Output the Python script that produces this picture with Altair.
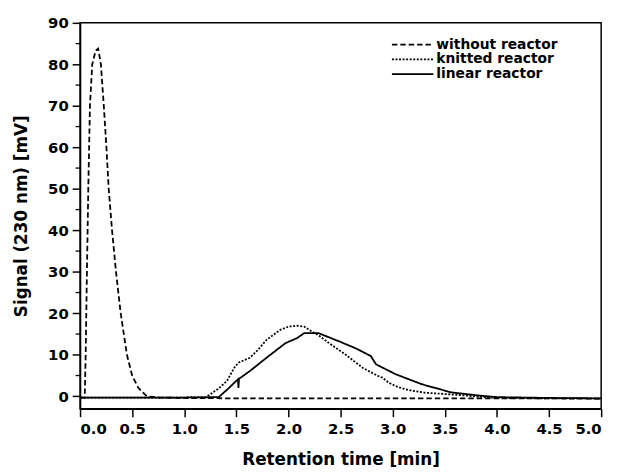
import altair as alt
import pandas as pd

series_names = ["without reactor", "knitted reactor", "linear reactor"]

t_without = [0.0, 0.045, 0.054, 0.066, 0.079, 0.095, 0.117, 0.15, 0.174, 0.20, 0.228,
             0.253, 0.275, 0.307, 0.345, 0.39, 0.45, 0.50, 0.56, 0.64, 0.75, 1.0, 1.5,
             2.0, 2.5, 3.0, 3.5, 4.0, 4.5, 5.0]
v_without = [-0.3, -0.3, 10, 30, 50, 70, 80, 83.3, 83.8, 80, 70,
             60, 50, 40, 30, 20, 10, 5, 2, 0, -0.3, -0.4, -0.5,
             -0.5, -0.5, -0.5, -0.5, -0.5, -0.5, -0.6]

t_knitted = [0.0, 0.5, 1.0, 1.21, 1.32, 1.41, 1.48, 1.52, 1.63, 1.70, 1.79, 1.92, 2.0,
             2.08, 2.15, 2.20, 2.30, 2.39, 2.55, 2.71, 2.85, 2.90, 2.96, 3.05, 3.18,
             3.3, 3.5, 3.7, 3.82, 4.0, 4.5, 5.0]
v_knitted = [-0.3, -0.3, -0.3, -0.2, 1.7, 3.7, 6.9, 8.1, 9.3, 11.0, 13.6, 16.0, 16.8,
             17.0, 16.8, 16.0, 14.5, 12.8, 10.0, 6.9, 5.0, 4.5, 3.3, 2.2, 1.35,
             0.9, 0.55, 0.2, -0.1, -0.4, -0.5, -0.5]

t_linear = [0.0, 0.5, 1.0, 1.33, 1.42, 1.515, 1.52, 1.525, 1.63, 1.79, 1.97, 2.08,
            2.15, 2.29, 2.49, 2.65, 2.79, 2.84, 3.03, 3.28, 3.56, 3.82, 4.0, 4.5, 5.0]
v_linear = [-0.3, -0.3, -0.3, -0.2, 1.8, 4.1, 2.0, 4.2, 6.1, 9.3, 12.8, 14.0,
            15.2, 15.2, 13.2, 11.5, 9.7, 7.7, 5.3, 2.9, 0.95, 0.2, -0.2, -0.4, -0.5]

x_ticks = [0.0, 0.5, 1.0, 1.5, 2.0, 2.5, 3.0, 3.5, 4.0, 4.5, 5.0]
y_ticks = [0, 10, 20, 30, 40, 50, 60, 70, 80, 90]
y_minor = [5, 15, 25, 35, 45, 55, 65, 75, 85]

rows = []
for name, ts, vs in zip(series_names, [t_without, t_knitted, t_linear],
                        [v_without, v_knitted, v_linear]):
    for i, (t, v) in enumerate(zip(ts, vs)):
        rows.append({"series": name, "t": t, "v": v, "i": i})
df = pd.DataFrame(rows)
minor_df = pd.DataFrame({"v": y_minor})

FONT = "DejaVu Sans"

x_scale = alt.Scale(domain=[0, 5], nice=False, zero=False)
y_scale = alt.Scale(domain=[-3, 90], nice=False, zero=False)

lines = alt.Chart(df).mark_line(color="black", strokeWidth=1.8).encode(
    x=alt.X("t:Q", scale=x_scale,
            axis=alt.Axis(values=x_ticks, format=".1f", title="Retention time [min]",
                          tickSize=8, labelPadding=5, titlePadding=16)),
    y=alt.Y("v:Q", scale=y_scale,
            axis=alt.Axis(values=y_ticks, format="d", title="Signal (230 nm) [mV]",
                          tickSize=8, labelPadding=4, titlePadding=17)),
    strokeDash=alt.StrokeDash(
        "series:N",
        scale=alt.Scale(domain=series_names, range=[[5.5, 3], [2, 1.6], [1, 0]]),
        sort=series_names,
        legend=alt.Legend(title=None, orient="none", legendX=329, legendY=14,
                          symbolType="M-3,0H3", symbolSize=196,
                          symbolStrokeWidth=1.8, symbolStrokeColor="black",
                          labelFontSize=14, labelFont=FONT, labelFontWeight="bold",
                          labelColor="black", labelOffset=16, rowPadding=0,
                          padding=0),
    ),
    order=alt.Order("i:Q"),
)

minor = alt.Chart(minor_df).mark_rule(color="black", strokeWidth=1.3).encode(
    y=alt.Y("v:Q", scale=y_scale),
    x=alt.value(-4.5),
    x2=alt.value(0),
)

chart = alt.layer(lines, minor).properties(
    width=528, height=391,
    autosize=alt.AutoSizeParams(type="none"),
    padding={"left": 73, "top": 12, "right": 12, "bottom": 57},
).configure_view(
    stroke="black", strokeWidth=1.5
).configure_axis(
    domainColor="black", domainWidth=1.5, tickColor="black", tickWidth=1.5,
    grid=False, labelFont=FONT, labelFontSize=15, labelFontWeight="bold",
    labelColor="black", titleFont=FONT, titleFontSize=17, titleFontWeight="bold",
    titleColor="black",
)

chart.save("out.html", embed_options={"renderer": "svg", "actions": False})
